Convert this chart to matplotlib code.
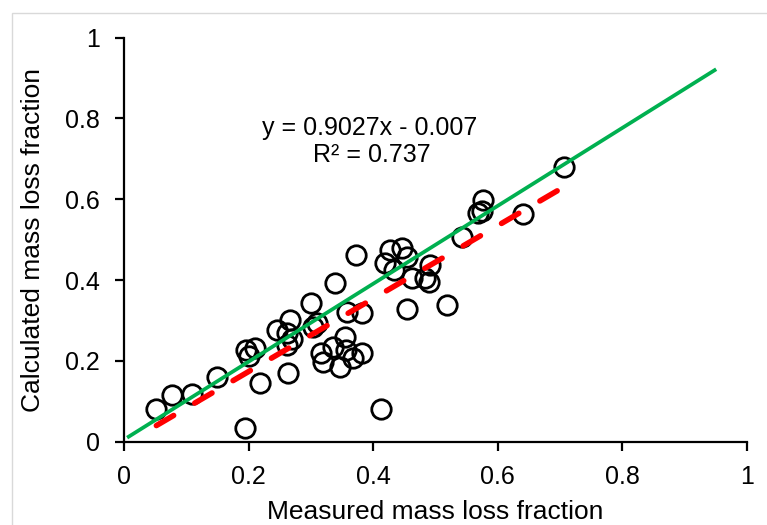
import matplotlib
matplotlib.use("Agg")
import matplotlib.pyplot as plt
from matplotlib.patches import Rectangle
import numpy as np

plt.rcParams['font.family'] = ['Liberation Sans', 'DejaVu Sans']

measured = [0.052, 0.077, 0.110, 0.150, 0.194, 0.196, 0.210, 0.200, 0.218, 0.245,
            0.267, 0.262, 0.270, 0.262, 0.264, 0.301, 0.304, 0.310, 0.339, 0.373,
            0.317, 0.319, 0.336, 0.355, 0.357, 0.347, 0.368, 0.382, 0.358, 0.383,
            0.413, 0.427, 0.419, 0.446, 0.454, 0.433, 0.462, 0.491, 0.483, 0.489,
            0.454, 0.518, 0.542, 0.577, 0.569, 0.575, 0.641, 0.706]
calculated = [0.080, 0.116, 0.118, 0.161, 0.033, 0.227, 0.233, 0.212, 0.145, 0.276,
              0.301, 0.270, 0.255, 0.240, 0.171, 0.343, 0.283, 0.295, 0.394, 0.462,
              0.219, 0.198, 0.235, 0.258, 0.227, 0.184, 0.206, 0.219, 0.322, 0.318,
              0.080, 0.474, 0.442, 0.479, 0.458, 0.425, 0.404, 0.437, 0.404, 0.396,
              0.328, 0.338, 0.506, 0.598, 0.565, 0.570, 0.564, 0.681]

slope, intercept = 0.9027, -0.007
ref_x = [0.005, 0.951]
ref_y = [0.010, 0.922]
ticks = [0, 0.2, 0.4, 0.6, 0.8, 1]
tick_labels = ['0', '0.2', '0.4', '0.6', '0.8', '1']

fig = plt.figure(figsize=(7.67, 5.25), dpi=100)
fig.patches.append(Rectangle((12/767, -0.1), 1.2, 1 - 13/525 + 0.1,
                             transform=fig.transFigure, fill=False,
                             edgecolor='#d9d9d9', linewidth=1.0))
ax = fig.add_axes([124/767, 1 - 441.7/525, (746.7 - 124)/767, (441.7 - 37.7)/525])

ax.plot(measured, calculated, linestyle='none', marker='o', markersize=14,
        markerfacecolor='none', markeredgecolor='black', markeredgewidth=2.0,
        clip_on=False, zorder=3)

tx = np.array([min(measured), max(measured)])
ax.plot(tx, slope * tx + intercept, color='#ff0000', linewidth=4.0,
        dashes=(3.6, 4.4), dash_capstyle='round', zorder=4)
ax.plot(ref_x, ref_y, color='#00b050', linewidth=2.7, zorder=5,
        solid_capstyle='butt')

ax.set_xlim(0, 1)
ax.set_ylim(0, 1)
ax.set_xticks(ticks)
ax.set_xticklabels(tick_labels)
ax.set_yticks(ticks)
ax.set_yticklabels(tick_labels)
for s in ['top', 'right']:
    ax.spines[s].set_visible(False)
for s in ['left', 'bottom']:
    ax.spines[s].set_linewidth(1.6)
ax.tick_params(axis='both', direction='out', length=6.5, width=1.6, labelsize=18)
ax.tick_params(axis='y', pad=11)
ax.tick_params(axis='x', pad=10)

ax.set_xlabel('Measured mass loss fraction', fontsize=19, labelpad=8)
ax.set_ylabel('Calculated mass loss fraction', fontsize=19, labelpad=14)

ax.text(0.395, 0.776, 'y = 0.9027x - 0.007', fontsize=18, ha='center', va='center')
ax.text(0.398, 0.710, 'R² = 0.737', fontsize=18, ha='center', va='center')

fig.savefig('out.png', dpi=100)
